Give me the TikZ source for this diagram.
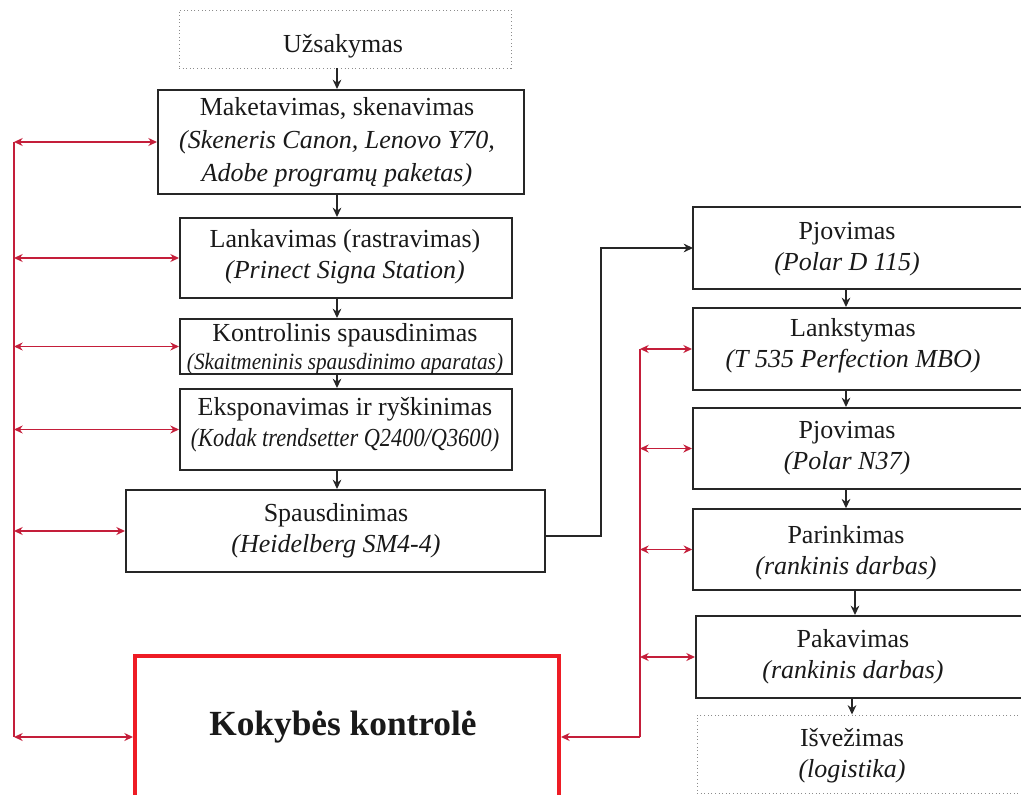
\documentclass[tikz,border=0pt]{standalone}
\usepackage{fontspec}
\usepackage{graphicx}
\setmainfont{Liberation Serif}
\usetikzlibrary{arrows.meta,fit}
\definecolor{arrred}{HTML}{C41E3A}
\definecolor{kkred}{HTML}{EE1C25}
\begin{document}
\begin{tikzpicture}[x=0.75pt,y=-0.75pt,
  box/.style={draw=black!85, line width=1.5pt, inner sep=0pt},
  dbox/.style={draw=black!45, line width=0.7pt, dotted, inner sep=0pt},
  kbox/.style={draw=kkred, line width=3pt, inner sep=0pt},
  txt/.style={align=center, font=\fontsize{19.5}{23.5}\selectfont, inner sep=0pt, text=black!90},
  arr/.style={line width=1.3pt, draw=black!85, -{Stealth[length=7pt,width=6.5pt]}},
  rline/.style={line width=1.4pt, draw=arrred},
  rarr/.style={rline, {Stealth[length=6.5pt,width=6pt]}-{Stealth[length=6.5pt,width=6pt]}},
  rarrend/.style={rline, -{Stealth[length=6.5pt,width=6pt]}}
]
\useasboundingbox (0,0) rectangle (1021,795);
\clip (0,0) rectangle (1021,795);

% left column boxes
\node[dbox, fit={(179,10) (511,68)}] (uz) {};
\node[box, fit={(158,90) (524,194)}] (mk) {};
\node[box, fit={(180,218) (512,298)}] (lk) {};
\node[box, fit={(180,319) (512,374)}] (kt) {};
\node[box, fit={(180,389) (512,470)}] (ek) {};
\node[box, fit={(126,490) (545,572)}] (sp) {};
\node[kbox, fit={(135,656) (559,818)}] (kk) {};

% right column boxes
\node[box, fit={(693,207) (1040,289)}] (pj1) {};
\node[box, fit={(693,308) (1040,390)}] (lsk) {};
\node[box, fit={(693,408) (1040,489)}] (pj2) {};
\node[box, line width=1.1pt, fit={(693,509) (1040,590)}] (par) {};
\node[box, fit={(696,616) (1040,698)}] (pak) {};
\node[dbox, fit={(697,715) (1040,793)}] (isv) {};

% texts
\node[txt] at (343,46) {Užsakymas};
\node[txt, font=\fontsize{19.5}{24.8}\selectfont] at (337,142) {Maketavimas, skenavimas\\\textit{(Skeneris Canon, Lenovo Y70,}\\\textit{Adobe programų paketas)}};
\node[txt] at (345,257) {Lankavimas (rastravimas)\\\textit{(Prinect Signa Station)}};
\node[txt] at (345,349) {Kontrolinis spausdinimas\\[-2pt]{\fontsize{17.5}{20}\selectfont\itshape\scalebox{0.91}[1]{(Skaitmeninis spausdinimo aparatas)}}};
\node[txt] at (345,425) {Eksponavimas ir ryškinimas\\{\itshape\scalebox{0.86}[1]{(Kodak trendsetter Q2400/Q3600)}}};
\node[txt] at (336,531) {Spausdinimas\\\textit{(Heidelberg SM4-4)}};
\node[font=\fontsize{26.5}{30}\selectfont\bfseries, inner sep=0pt, text=black!90] at (343,727) {Kokybės kontrolė};

\node[txt] at (847,249) {Pjovimas\\\textit{(Polar D 115)}};
\node[txt] at (853,346) {Lankstymas\\\textit{(T 535 Perfection MBO)}};
\node[txt] at (847,448) {Pjovimas\\\textit{(Polar N37)}};
\node[txt] at (846,553) {Parinkimas\\\textit{(rankinis darbas)}};
\node[txt] at (853,657) {Pakavimas\\\textit{(rankinis darbas)}};
\node[txt] at (852,756) {Išvežimas\\\textit{(logistika)}};

% black flow arrows
\coordinate (cx) at (337,0);
\coordinate (rx1) at (846,0);
\coordinate (rx2) at (855,0);
\coordinate (rx3) at (852,0);
\coordinate (jx) at (601,0);
\draw[arr] (uz.south -| cx) -- (mk.north -| cx);
\draw[arr] (mk.south -| cx) -- (lk.north -| cx);
\draw[arr] (lk.south -| cx) -- (kt.north -| cx);
\draw[arr] (kt.south -| cx) -- (ek.north -| cx);
\draw[arr] (ek.south -| cx) -- (sp.north -| cx);
\coordinate (spo) at (545,536);
\coordinate (pji) at (693,248);
\draw[arr] (spo) -- (spo -| jx) -- (jx |- pji) -- (pji);
\draw[arr] (pj1.south -| rx1) -- (lsk.north -| rx1);
\draw[arr] (lsk.south -| rx1) -- (pj2.north -| rx1);
\draw[arr] (pj2.south -| rx1) -- (par.north -| rx1);
\draw[arr] (par.south -| rx2) -- (pak.north -| rx2);
\draw[arr] (pak.south -| rx3) -- (isv.north -| rx3);

% left red bus
\coordinate (lb) at (14,0);
\draw[rline] (lb |- mk.west) -- (lb |- kk.west);
\draw[rarr] (lb |- mk.west) -- (mk.west);
\draw[rarr] (lb |- lk.west) -- (lk.west);
\draw[rarr] (lb |- kt.west) -- (kt.west);
\draw[rarr] (lb |- ek.west) -- (ek.west);
\draw[rarr] (lb |- sp.west) -- (sp.west);
\draw[rarr] (lb |- kk.west) -- (kk.west);

% right red bus
\coordinate (rb) at (640,0);
\draw[rline] (rb |- lsk.west) -- (rb |- kk.east);
\draw[rarr] (rb |- lsk.west) -- (lsk.west);
\draw[rarr] (rb |- pj2.west) -- (pj2.west);
\draw[rarr] (rb |- par.west) -- (par.west);
\draw[rarr] (rb |- pak.west) -- (pak.west);
\draw[rarrend] (rb |- kk.east) -- (kk.east);
\end{tikzpicture}
\end{document}
